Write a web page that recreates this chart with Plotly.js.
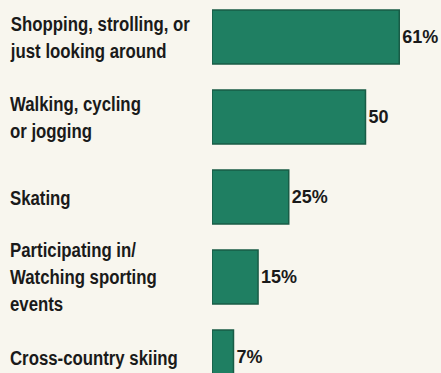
<!DOCTYPE html>
<html>
<head>
<meta charset="utf-8">
<script src="https://cdn.plot.ly/plotly-3.0.1.min.js"></script>
<style>
html,body{margin:0;padding:0;background:#f8f6ee;}
#chart{width:441px;height:373px;}
text.annotation-text{transform-box:fill-box;transform-origin:left center;transform:scaleX(0.8);}
</style>
</head>
<body>
<div id="chart"></div>
<script>
const categories = [
  "Shopping, strolling, or<br>just looking around",
  "Walking, cycling<br>or jogging",
  "Skating",
  "Participating in/<br>Watching sporting<br>events",
  "Cross-country skiing"
];
const values = [61, 50, 25, 15, 7];
const valueLabels = ["61%", "50", "25%", "15%", "7%"];

const FONT = '"Liberation Sans", Arial, sans-serif';
const idx = categories.map((c, i) => i);

const trace = {
  type: 'bar',
  orientation: 'h',
  y: idx,
  x: values,
  width: 0.675,
  marker: {color: '#1f7f62', line: {color: '#195c46', width: 1.5}},
  text: valueLabels,
  textposition: 'outside',
  cliponaxis: false,
  textfont: {family: FONT, size: 18, color: '#1a1a1a', weight: 'bold'},
  hoverinfo: 'none'
};

const annotations = categories.map((c, i) => ({
  xref: 'paper', yref: 'y',
  x: (8 - 212) / 229, y: i,
  xanchor: 'left', yanchor: 'middle', align: 'left',
  text: '<b>' + c + '</b>',
  showarrow: false,
  font: {family: FONT, size: 21, color: '#1a1a1a'}
}));

const layout = {
  width: 441, height: 373,
  margin: {l: 212, r: 0, t: 0, b: 0},
  paper_bgcolor: '#f8f6ee',
  plot_bgcolor: '#f8f6ee',
  showlegend: false,
  xaxis: {range: [0, 74.6], visible: false, fixedrange: true},
  yaxis: {range: [4.2, -0.4625], visible: false, fixedrange: true, type: 'linear'},
  annotations: annotations,
  bargap: 0
};

Plotly.newPlot('chart', [trace], layout, {staticPlot: true, displayModeBar: false});
</script>
</body>
</html>
